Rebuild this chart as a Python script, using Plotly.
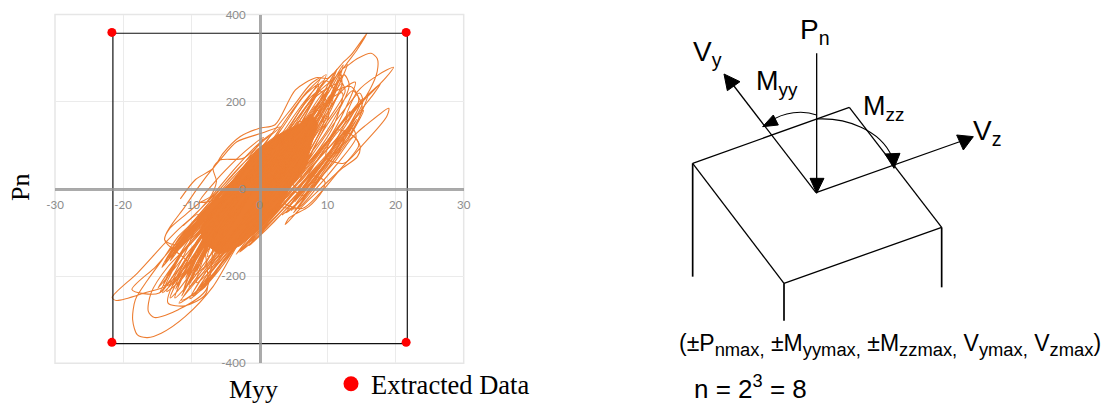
import plotly.graph_objects as go

W, H = 1109, 403
ORANGE = "#ED7D31"

x_ticks = [-30, -20, -10, 0, 10, 20, 30]
x_tick_labels = ["-30", "-20", "-10", "0", "10", "20", "30"]
y_ticks = [-400, -200, 0, 200, 400]
y_tick_labels = ["-400", "-200", "0", "200", "400"]

envelope_myy = [-21.5, 21.72, 21.72, -21.5, -21.5]
envelope_pn = [357, 357, -355, -355, 357]
extracted_myy = [-21.65, 21.55, 21.55, -21.65]
extracted_pn = [359, 359, -352, -352]

# Outer loops of the response
outer_myy = [-11.6, -9.4, -6.8, -5.3, -2.8, 0, 2.3, 5.3, 8.3, 10.1, 12.4, 13.4, 15.8, 14.3, 12.4, 14.4, 16.4, 17.3, 17.3,
             16.2, 14.9, 12.8, 14.4, 17.4, 19.7, 18.5, 15.4, 13.1, 15.2, 17.8, 16.6, 14.2, 12.4, 15.4, 19.0, 18.7, 15.4,
             12.4, 9.8, 11.4, 13.9, 14.8, 14.4, 11.9, 8.8, 6.3, 3.8, 4.4, 7.3, 9.2, 9.6, 7.8, 5.2, 2.2, 0, -2.6, -6.8,
             -10.9, -14.4, -16.4, -17.9, -18.6, -18.2, -16.4, -13.9, -11.9, -9.2, -7.2, -7.8, -11.9, -15.4, -16.3, -15.9,
             -13.4, -10.5, -8.4, -12.9, -16.9, -21.0, -21.6, -17.9, -13.9, -11.4, -9.0, -11.0, -14.7, -18.7, -15.2, -12.0,
             -9.2, -7.8, -10.9, -13.4, -12.8, -10.4, -13.9, -10.9, -7.8, -5.8, -3.3, 0.4, 3.1, 0.8, -2.4, -5.8, -6.8, -6.3,
             -7.2, -8.6, -10.9, -13.2, -13.9, -12.2, -9.4]
outer_pn = [-23, 21, 47, 82, 120, 139, 147, 227, 255, 254, 292, 306, 357, 318, 277, 299, 311, 299, 269,
            227, 196, 167, 223, 261, 279, 254, 204, 165, 205, 241, 214, 165, 105, 143, 185, 166, 105,
            59, 72, 135, 120, 97, 74, 44, -2, -40, -82, -66, -40, -6, 17, 30, -4, -42, -78, -115, -224,
            -293, -331, -341, -335, -300, -254, -209, -155, -109, -70, -38, -231, -277, -295, -281, -239,
            -178, -132, -100, -216, -239, -256, -249, -193, -125, -86, -58, -150, -239, -231, -178, -121,
            -79, -239, -268, -262, -223, -172, -117, -40, 28, 66, 108, 128, 142, 113, 70, 66, 47, 17,
            -18, -30, -60, -92, -117, -128, -80]

# Upper half of the bundle
upper_myy = [1.5, 5.2, 8.3, 10.4, 12.3, 10.8, 7.1, 3.5, 2.1, 6.4, 9.6, 11.7, 12.6, 9.1, 5.8, 3.0, 7.9, 10.9, 12.8, 14.1,
             11.2, 7.4, 4.6, 8.5, 11.9, 14.7, 15.2, 12.1, 8.2, 5.1, 9.7, 13.1, 15.9, 13.6, 9.9, 6.4, 3.2, 6.2, 9.4, 11.8,
             12.1, 8.9, 5.6, 2.4, 4.9, 8.1, 10.1, 11.4, 9.2, 6.1, 3.7, 7.2, 10.3, 12.4, 13.2, 10.6, 7.7, 4.3, 1.2, 4.4,
             7.6, 9.8, 10.9, 8.4, 5.4, 2.6, 6.9, 10.6, 13.4, 14.6, 11.8, 8.8, 5.9, 8.9, 11.4, 13.7, 15.1, 12.9, 9.4, 6.2,
             2.9, 5.7, 8.7, 11.1, 12.9, 10.2, 7.0, 4.1, 1.8, 4.0, 6.7, 8.9, 10.2, 7.9, 5.0, 2.2, 5.6, 9.0, 12.2, 10.9, 7.5, 3.9]
upper_pn = [10, 110, 190, 235, 285, 215, 125, 35, -15, 100, 185, 250, 225, 135, 45, -10, 115, 200, 235, 245,
            140, 55, 5, 95, 170, 220, 200, 115, 35, -25, 95, 160, 215, 130, 60, -15, 35, 130, 210, 268,
            232, 150, 70, 5, 95, 180, 240, 275, 195, 95, 30, 135, 205, 262, 238, 150, 85, 25, 40, 125,
            205, 248, 228, 135, 60, 12, 118, 218, 235, 205, 125, 70, 15, 120, 180, 225, 188, 115, 45, -5,
            70, 150, 222, 255, 286, 190, 100, 25, 60, 128, 196, 225, 172, 92, 18, 32, 125, 190, 220, 145, 65, 10]

# Upper half, left edge of the bundle
upper_left_myy = [-1.0, 2.0, 5.0, 7.5, 9.0, 6.4, 3.1, 0.2, -2.2, 1.4, 4.4, 7.1, 9.8, 7.8, 4.9, 1.8, -0.9, 2.6, 5.7, 8.6, 10.9, 8.9,
                  6.0, 3.3, 0.9, 3.9, 6.9, 9.9, 11.4, 9.3, 6.6, 3.7, 1.2, 4.3, 7.4, 10.2, 11.9, 9.6, 6.9, 4.1, 1.6, 4.8, 7.9, 10.6,
                  12.1, 10.0, 7.2, 4.4, 2.0, -0.6, 2.4, 5.2, 8.1, 9.4, 6.8, 3.6, 0.5, -1.8, 1.0, 3.8, 6.5, 8.7, 6.2, 3.2, 0.4]
upper_left_pn = [60, 130, 190, 240, 255, 190, 115, 55, 20, 100, 170, 225, 262, 200, 135, 70, 10, 95, 165, 225, 265, 190,
                 125, 65, 15, 100, 165, 230, 240, 178, 118, 50, 8, 92, 160, 222, 268, 180, 112, 48, 5, 88, 155, 215,
                 242, 165, 100, 40, 0, 40, 105, 170, 228, 248, 170, 90, 30, 5, 85, 150, 212, 240, 150, 72, 15]

# Upper half, right edge of the bundle
upper_right_myy = [3.0, 6.0, 9.0, 12.0, 14.8, 12.6, 9.8, 7.0, 4.4, 7.6, 10.6, 13.4, 15.3, 12.9, 10.2, 7.4, 5.0, 8.4, 11.2, 13.9, 14.6,
                   11.6, 8.9, 6.3, 3.6, 6.7, 9.5, 12.4, 15.0, 13.0, 10.3, 7.3, 4.7, 7.9, 10.9, 13.6, 14.2, 11.3, 8.3, 5.5, 2.8, 5.9,
                   8.8, 11.7, 13.3, 10.7, 7.8, 5.2, 8.0, 11.0, 14.3, 12.2, 9.2, 6.5, 3.9, 6.8, 9.7, 12.6, 11.9, 8.6, 5.9, 3.3]
upper_right_pn = [-20, 40, 90, 150, 195, 130, 70, 10, -40, 30, 90, 150, 180, 110, 50, -10, -55, 15, 65, 120, 100,
                  40, -10, -45, -30, 35, 95, 155, 205, 135, 70, 0, -50, 20, 80, 140, 118, 55, 0, -45, -35, 30,
                  85, 145, 178, 95, 30, -30, 25, 85, 160, 105, 35, -20, -55, 10, 72, 135, 92, 18, -28, -60]

# Lower half of the bundle
lower_myy = [-1.2, -4.6, -7.8, -10.2, -12.4, -10.6, -7.2, -3.8, -1.9, -5.9, -9.1, -11.3, -13.6, -10.4, -6.7, -3.1, -6.8, -9.9,
             -12.7, -14.2, -11.4, -7.6, -4.4, -8.6, -11.8, -14.9, -12.2, -8.9, -5.6, -9.7, -12.9, -14.6, -11.1, -7.9, -4.8,
             -2.2, -5.4, -8.7, -11.6, -12.8, -9.6, -6.1, -2.8, -6.4, -9.4, -10.8, -8.4, -5.2, -3.6, -7.4, -10.7, -12.3, -9.1,
             -5.9, -2.4, -5.1, -8.2, -10.1, -7.7, -4.4, -1.6, -4.9, -7.9, -9.6, -11.4, -8.6, -5.4, -2.9, -6.6, -9.9, -11.9,
             -13.1, -10.2, -6.8, -3.4, -5.8, -9.3, -12.4, -14.1, -10.9, -7.4, -4.2, -7.1, -9.8, -11.2, -8.7, -5.1, -1.4, -4.3,
             -7.0, -9.2, -6.5, -3.6, -6.3, -9.5, -12.0, -9.0, -5.5, -2.7, -4.7, -8.0, -10.6, -7.8, -3.9]
lower_pn = [-10, -95, -165, -215, -250, -180, -95, -20, 30, -80, -150, -205, -235, -150, -65, 5, -70, -140,
            -215, -238, -150, -75, -25, -110, -170, -228, -165, -105, -45, -140, -205, -238, -140, -85, -30,
            15, -50, -130, -195, -222, -130, -55, 5, -85, -160, -205, -118, -45, -5, -115, -182, -230, -148,
            -68, 8, -55, -145, -215, -125, -40, 22, -70, -150, -195, -245, -160, -80, -20, -120, -190, -232,
            -250, -155, -65, 15, -55, -148, -205, -222, -130, -55, -5, -105, -175, -235, -140, -50, 25, -35,
            -110, -190, -100, -15, -85, -168, -218, -135, -42, 20, -50, -135, -210, -115, -20]

# Lower half, left edge of the bundle
lower_left_myy = [-4.0, -7.0, -10.0, -12.6, -10.8, -8.1, -5.4, -3.0, -6.0, -8.9, -11.6, -13.8, -11.9, -9.2, -6.3, -3.6, -6.7, -9.6, -12.2,
                  -14.3, -12.4, -9.8, -7.1, -4.4, -7.4, -10.3, -12.9, -13.5, -11.0, -8.3, -5.6, -2.9, -5.8, -8.6, -11.4, -13.1, -10.7,
                  -7.9, -5.0, -8.0, -10.9, -13.4, -12.0, -9.4, -6.6, -3.9, -6.9, -9.7, -12.5, -10.1, -7.5, -4.7, -7.7, -11.1, -13.0]
lower_left_pn = [-10, -60, -110, -150, -100, -50, -5, 30, -25, -75, -125, -170, -115, -65, -15, 20, -40, -90, -140,
                 -180, -128, -80, -35, 8, -45, -98, -145, -160, -108, -62, -12, 22, -30, -82, -130, -165, -102,
                 -55, -8, -65, -118, -158, -125, -78, -28, 12, -48, -100, -148, -96, -52, -2, -58, -122, -155]

# Lower half, right edge of the bundle
lower_right_myy = [-1.0, -4.0, -7.0, -9.6, -11.4, -8.8, -6.0, -3.2, -0.4, -2.6, -5.2, -8.0, -9.9, -7.4, -4.6, -1.9, 1.0, -1.6, -4.2, -6.9,
                   -8.8, -6.2, -3.6, -0.8, 1.8, -0.9, -3.4, -6.0, -7.9, -10.2, -7.8, -5.0, -2.2, 0.6, -2.0, -4.8, -7.5, -9.2, -11.8, -8.9,
                   -6.2, -3.4, -0.6, 2.4, 0.2, -2.8, -5.6, -8.3, -6.4, -3.9, -1.2, 1.4, -1.4, -4.1, -7.1, -9.4, -7.0, -4.4, -1.7]
lower_right_pn = [-60, -130, -190, -240, -255, -195, -140, -90, -40, -110, -165, -225, -245, -180, -125, -75, -25, -90, -150, -205,
                  -232, -170, -115, -62, -10, -72, -132, -188, -222, -252, -190, -135, -82, -30, -95, -155, -212, -236, -262, -205,
                  -150, -98, -45, 5, -42, -112, -170, -225, -175, -120, -65, -18, -82, -145, -200, -240, -182, -128, -72]

# Strokes running through the middle of the bundle
middle_myy = [-6.2, -3.1, 0.4, 3.6, 6.4, 8.2, 5.2, 2.1, -1.2, -4.3, -7.6, -5.0, -1.6, 1.9, 5.1, 8.6, 9.4, 6.4, 3.4, 0.2,
              -3.4, -6.6, -9.2, -6.9, -3.8, -0.4, 2.7, 5.9, 7.3, 4.1, 0.8, -2.6, -5.4, -8.4, -10.3, -7.3, -4.4, -1.1, 2.2,
              4.8, 7.8, 10.1, 7.1, 4.0, 1.3, -1.8, -4.8, -7.1, -4.2, -0.9, 2.6, 6.1, 9.0, 6.0, 2.7, -0.6, -4.1, -6.9, -9.9,
              -6.0, -2.2, 1.1, 4.4, 7.4, 3.4, -0.2, -3.7, -8.2, -4.6, -0.8, 3.1, 6.8, 10.8, 8.2, 4.6, 1.4, -2.0, -5.6]
middle_pn = [-65, -10, 50, 110, 150, 190, 85, 15, -50, -105, -155, -60, 5, 70, 125, 180, 150, 65, -5, -60,
             -125, -180, -215, -110, -40, 25, 90, 155, 120, 35, -35, -100, -160, -195, -225, -120, -45, 25, 95,
             145, 205, 230, 125, 45, -15, -80, -140, -175, -70, 5, 65, 130, 170, 75, 0, -70, -135, -165, -200,
             -85, -5, 55, 115, 155, 55, -20, -95, -185, -80, 0, 75, 140, 210, 110, 25, -40, -105, -170]

# Middle of the bundle, left flank
mid_left_myy = [-10.5, -7.8, -5.2, -2.6, 0.2, 2.9, 0.6, -2.1, -4.9, -7.6, -10.1, -7.1, -4.4, -1.9, 0.8, 3.4, 1.2, -1.4, -4.1, -6.9,
                -9.4, -6.4, -3.6, -1.0, 1.6, 4.2, 2.0, -0.6, -3.3, -6.1, -8.7, -5.7, -2.8, -0.1, 2.5, 5.0, -1.2, -4.2, -6.6, -8.8,
                -6.6, -4.2, -1.8, 0.6, -1.6, -4.0, -6.4, -8.9, -11.2, -8.6, -6.1, -3.5, -0.9, 1.9, -0.4, -3.0, -5.6, -8.2, -10.4,
                -7.9, -5.3, -2.4, 0.4, 3.6]
mid_left_pn = [-90, -40, 10, 55, 95, 125, 75, 25, -25, -75, -115, -55, -5, 45, 90, 120, 65, 15, -40, -85,
               -125, -65, -15, 35, 80, 115, 55, 5, -50, -95, -135, -70, -20, 30, 75, 110, 60, 10, -25, -30,
               15, 55, 90, 118, 72, 30, -10, -50, -85, -45, 0, 48, 92, 128, 82, 35, -8, -55, -98,
               -48, 2, 50, 92, 130]

# Middle of the bundle, right flank
mid_right_myy = [-3.0, -0.8, 1.6, 4.1, 6.6, 9.1, 11.3, 8.9, 6.4, 3.9, 1.4, -1.1, -3.4, -0.7, 1.9, 4.5, 7.0, 9.6, 11.9, 9.3,
                 6.8, 4.2, 1.8, -0.6, -2.9, 0.3, 3.0, 5.6, 8.2, 10.7, 8.4, 5.9, 3.4, 0.9, -1.5, 1.1, 3.7, 6.2, 8.9, 7.1, 4.7,
                 2.3, 0.0, 2.6, 5.1, 7.6, 10.1, 12.3, 9.9, 7.4, 4.9, 2.2, -0.3, -2.4, 0.7, 3.3, 6.0, 8.6, 6.3, 3.8, 1.1, -1.6]
mid_right_pn = [-125, -85, -40, 5, 50, 95, 130, 75, 25, -20, -65, -110, -150, -95, -50, -5, 40, 85, 120, 60,
                10, -35, -75, -115, -145, -90, -45, 0, 45, 85, 30, -15, -55, -95, -130, -80, -35, 10, 55, 15, -25,
                -65, -100, -50, -5, 38, 82, 118, 58, 12, -30, -75, -112, -138, -85, -40, 5, 48, 2, -42, -85, -125]

# Solid middle of the bundle where lines overlap completely
core_myy = [-8.6, -6.4, -3.6, -0.4, 3.4, 6.0, 7.6, 8.6, 7.6, 6.8, 4.6, 2.8, 0.2, -2.8, -5.9, -8.0, -8.6]
core_pn = [-88, -35, 26, 90, 130, 150, 172, 150, 100, 50, 5, -48, -90, -130, -150, -125, -88]


def px(x):
    return x / W


def py(y):
    return 1 - y / H


def path(*cmds):
    out = []
    for c in cmds:
        if isinstance(c, str):
            out.append(c)
        else:
            out.append(f"{px(c[0]):.5f},{py(c[1]):.5f}")
    return " ".join(out)


def zoomed(zx, zy):
    # diagram coordinates measured on the 3x enlargement of the right panel
    return (640 + zx / 3, zy / 3)


def sb(text, pct=114):
    return f'<sub><span style="font-size:{pct}%">{text}</span></sub>'


fig = go.Figure()
fig.add_trace(go.Scatter(x=core_myy, y=core_pn, mode="lines", fill="toself", fillcolor=ORANGE,
                         line=dict(color=ORANGE, width=1), showlegend=False, name="Core"))
for name, xs, ys in [("Outer", outer_myy, outer_pn), ("Upper", upper_myy, upper_pn),
                     ("Upper left", upper_left_myy, upper_left_pn), ("Upper right", upper_right_myy, upper_right_pn),
                     ("Lower", lower_myy, lower_pn), ("Lower left", lower_left_myy, lower_left_pn),
                     ("Lower right", lower_right_myy, lower_right_pn), ("Middle", middle_myy, middle_pn),
                     ("Middle left", mid_left_myy, mid_left_pn), ("Middle right", mid_right_myy, mid_right_pn)]:
    fig.add_trace(go.Scatter(x=xs, y=ys, mode="lines",
                             line=dict(color=ORANGE, width=1.1, shape="spline", smoothing=0.8),
                             showlegend=False, name=name))
fig.add_trace(go.Scatter(x=envelope_myy, y=envelope_pn, mode="lines", line=dict(color="#111111", width=1.2),
                         showlegend=False, name="Envelope"))
fig.add_trace(go.Scatter(x=extracted_myy, y=extracted_pn, mode="markers", marker=dict(color="#FF0000", size=9),
                         showlegend=False, name="Extracted points"))
fig.add_trace(go.Scatter(x=[None], y=[None], mode="markers", marker=dict(color="#FF0000", size=15),
                         name="Extracted Data"))

# Column diagram
seg = lambda a, b, w=1.3: dict(type="line", xref="paper", yref="paper", x0=px(a[0]), y0=py(a[1]), x1=px(b[0]), y1=py(b[1]),
                               line=dict(color="#000000", width=w))
Z = zoomed
shapes = [
    seg(Z(530, 160), Z(530, 560)),
    seg(Z(528, 578), Z(268, 240)),
    seg(Z(528, 578), Z(965, 423)),
    seg(Z(158, 490), Z(628, 322)),
    seg(Z(628, 322), Z(905, 682)),
    seg(Z(905, 682), Z(432, 850)),
    seg(Z(432, 850), Z(158, 490)),
    seg(Z(158, 490), Z(158, 830), 1.7),
    seg(Z(905, 682), Z(905, 862), 1.7),
    seg(Z(432, 850), Z(432, 962), 1.7),
]
for tri in [[(510, 535), (552, 535), (530, 580)],
            [(252, 222), (300, 245), (262, 272)],
            [(1000, 410), (950, 405), (970, 450)],
            [(368, 380), (400, 345), (415, 375)],
            [(762, 505), (735, 462), (780, 460)]]:
    a, b, c = [Z(*p) for p in tri]
    shapes.append(dict(type="path", xref="paper", yref="paper", path=path("M", a, "L", b, "L", c, "Z"),
                       fillcolor="#000000", line=dict(color="#000000", width=1)))
shapes.append(dict(type="path", xref="paper", yref="paper",
                   path=path("M", Z(530, 345), "C", Z(490, 330), Z(430, 335), Z(390, 365)),
                   line=dict(color="#000000", width=1.1)))
shapes.append(dict(type="path", xref="paper", yref="paper",
                   path=path("M", Z(530, 357), "C", Z(620, 352), Z(720, 390), Z(755, 468)),
                   line=dict(color="#000000", width=1.1)))

SANS = "Liberation Sans"
SERIF = "Liberation Serif"


def note(text, x, y, size, family=SANS, angle=0, xanchor="left"):
    return dict(text=text, x=px(x), y=py(y), xref="paper", yref="paper", showarrow=False, xanchor=xanchor, yanchor="middle",
                font=dict(family=family, size=size, color="#000000"), textangle=angle, borderpad=0, borderwidth=0)


annotations = [
    note("Myy", 253.5, 389, 26, SERIF, xanchor="center"),
    note("Pn", 21, 188, 26, SERIF, angle=-90, xanchor="center"),
    note("P" + sb("n", 100), 800, 32, 28),
    note("V" + sb("y", 100), 693, 54, 28),
    note("M" + sb("yy", 100), 756, 83, 27),
    note("M" + sb("zz", 100), 863, 108, 27),
    note("V" + sb("z", 100), 973, 132, 28),
    note("(±P" + sb("nmax,") + " ±M" + sb("yymax,") + " ±M" + sb("zzmax,") + " V" + sb("ymax,") + " V" + sb("zmax") + ")",
         679, 345, 23),
    note("n = 2<sup>3</sup> = 8", 694, 387, 26),
]

axis_common = dict(showgrid=True, gridcolor="#EBEBEB", gridwidth=1, zeroline=False, showline=True,
                   linecolor="rgba(150,150,150,0.8)", linewidth=2.5, ticks="outside", tickcolor="rgba(0,0,0,0)",
                   tickfont=dict(family="Lato", size=11.5, color="#8C8C8C"), fixedrange=True)

fig.update_layout(
    width=W, height=H, margin=dict(l=0, r=0, t=0, b=0, autoexpand=False), paper_bgcolor="white", plot_bgcolor="white",
    xaxis=dict(domain=[55 / W, 463.7 / W], range=[-30, 30], tickvals=x_ticks, ticktext=x_tick_labels,
               anchor="free", position=py(188.7), ticklen=5, **axis_common),
    yaxis=dict(domain=[py(363.3), py(14.5)], range=[-400, 400], tickvals=y_ticks, ticktext=y_tick_labels,
               anchor="free", position=px(259.7), ticklen=11, **axis_common),
    shapes=[dict(type="rect", xref="x domain", yref="y domain", x0=0, x1=1, y0=0, y1=1,
                 line=dict(color="#E6E6E6", width=1.5), layer="below")] + shapes,
    annotations=annotations,
    showlegend=True,
    legend=dict(x=px(331), y=py(384), xanchor="left", yanchor="middle", bgcolor="rgba(0,0,0,0)", borderwidth=0,
                font=dict(family=SERIF, size=26.5, color="#000000"), itemclick=False, itemdoubleclick=False),
)

fig.write_html("out.html", config=dict(displayModeBar=False),
               post_script="document.body.style.margin='0';document.body.style.overflow='hidden';")
